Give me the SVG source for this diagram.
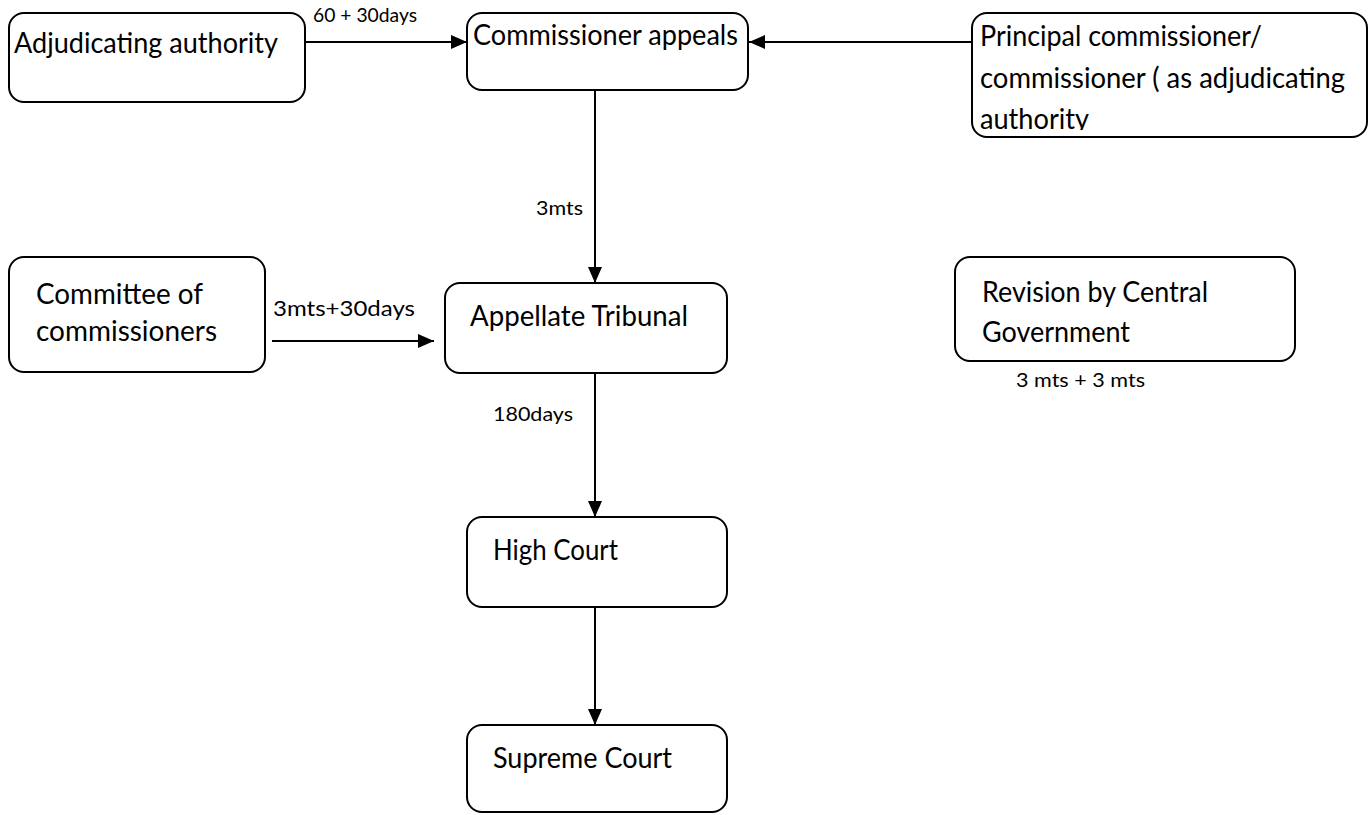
<svg xmlns="http://www.w3.org/2000/svg" width="1368" height="815" viewBox="0 0 1368 815">
<style>
.box{fill:#fff;stroke:#000;stroke-width:2}
.t{font-family:Lato,"Open Sans","Liberation Sans",sans-serif;font-size:28px;fill:#000}
.s{font-family:Lato,"Open Sans","Liberation Sans",sans-serif;font-size:20px;fill:#000}
.c{stroke:#000;stroke-width:2;fill:none}
</style>
<defs>
<marker id="ah" markerWidth="16" markerHeight="14" refX="16" refY="7" orient="auto" markerUnits="userSpaceOnUse">
<path d="M0,0 L16,7 L0,14 Z" fill="#000"/>
</marker>
<clipPath id="pc"><rect x="972" y="13" width="395" height="117"/></clipPath>
</defs>
<rect width="1368" height="815" fill="#fff"/>
<g id="connectors">
<line class="c" x1="305" y1="42" x2="467" y2="42" marker-end="url(#ah)"/>
<line class="c" x1="972" y1="42" x2="749" y2="42" marker-end="url(#ah)"/>
<line class="c" x1="595" y1="88" x2="595" y2="283" marker-end="url(#ah)"/>
<line class="c" x1="272" y1="341" x2="434" y2="341" marker-end="url(#ah)"/>
<line class="c" x1="595" y1="373" x2="595" y2="517" marker-end="url(#ah)"/>
<line class="c" x1="595" y1="607" x2="595" y2="725" marker-end="url(#ah)"/>
<text class="s" x="313" y="22" textLength="104" lengthAdjust="spacingAndGlyphs">60 + 30days</text>
<text class="s" x="536" y="215" textLength="47" lengthAdjust="spacingAndGlyphs">3mts</text>
<text class="s" x="273" y="316" textLength="142" lengthAdjust="spacingAndGlyphs" style="font-size:22px">3mts+30days</text>
<text class="s" x="493" y="421" textLength="80" lengthAdjust="spacingAndGlyphs">180days</text>
</g>
<g id="adjudicating">
<rect class="box" x="9" y="13" width="296" height="89" rx="15"/>
<text class="t" x="14" y="53" textLength="264" lengthAdjust="spacingAndGlyphs">Adjudicating authority</text>
</g>
<g id="commissioner-appeals">
<rect class="box" x="467" y="13" width="281" height="77" rx="15"/>
<text class="t" x="473" y="45" textLength="265" lengthAdjust="spacingAndGlyphs">Commissioner appeals</text>
</g>
<g id="principal">
<rect class="box" x="972" y="13" width="395" height="124" rx="15"/>
<g clip-path="url(#pc)">
<text class="t" x="980" y="46" textLength="282" lengthAdjust="spacingAndGlyphs">Principal commissioner/</text>
<text class="t" x="980" y="88" textLength="365" lengthAdjust="spacingAndGlyphs">commissioner ( as adjudicating</text>
<text class="t" x="980" y="129" textLength="109" lengthAdjust="spacingAndGlyphs">authority</text>
</g>
</g>
<g id="committee">
<rect class="box" x="9" y="257" width="256" height="115" rx="15"/>
<text class="t" x="36" y="304" textLength="167" lengthAdjust="spacingAndGlyphs">Committee of</text>
<text class="t" x="36" y="341" textLength="181" lengthAdjust="spacingAndGlyphs">commissioners</text>
</g>
<g id="appellate">
<rect class="box" x="445" y="283" width="282" height="90" rx="15"/>
<text class="t" x="470" y="326" textLength="218" lengthAdjust="spacingAndGlyphs">Appellate Tribunal</text>
</g>
<g id="revision">
<rect class="box" x="955" y="257" width="340" height="104" rx="15"/>
<text class="t" x="982" y="302" textLength="226" lengthAdjust="spacingAndGlyphs">Revision by Central</text>
<text class="t" x="982" y="342" textLength="148" lengthAdjust="spacingAndGlyphs">Government</text>
<text class="s" x="1016" y="387" textLength="129" lengthAdjust="spacingAndGlyphs">3 mts + 3 mts</text>
</g>
<g id="high-court">
<rect class="box" x="467" y="517" width="260" height="90" rx="15"/>
<text class="t" x="493" y="560" textLength="125" lengthAdjust="spacingAndGlyphs">High Court</text>
</g>
<g id="supreme-court">
<rect class="box" x="467" y="725" width="260" height="87" rx="15"/>
<text class="t" x="493" y="768" textLength="179" lengthAdjust="spacingAndGlyphs">Supreme Court</text>
</g>
</svg>
